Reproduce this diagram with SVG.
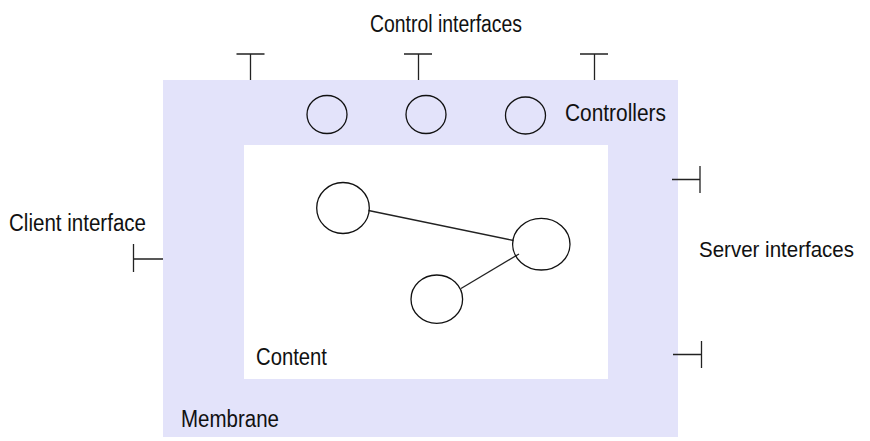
<svg xmlns="http://www.w3.org/2000/svg" width="870" height="441" viewBox="0 0 870 441">
<style>
.lbl{font-family:"Liberation Sans",Arial,sans-serif;font-size:23.5px;fill:#111}
.ln{stroke:#222;stroke-width:1.3;fill:none}
.nd{stroke:#111;stroke-width:1.3;fill:none}
</style>
<rect id="membrane" x="163" y="80" width="515" height="357" fill="#e3e3fa"/>
<rect id="content" x="244" y="145" width="364" height="234" fill="#ffffff"/>
<g id="interfaces">
<path class="ln" d="M250.5 54V80M236.5 54H264.5"/>
<path class="ln" d="M418.5 54V80M404 54H432"/>
<path class="ln" d="M594.5 54V80M580 54H608"/>
<path class="ln" d="M133.5 244V272M133.5 259H163"/>
<path class="ln" d="M700 166V193M672 179.5H700"/>
<path class="ln" d="M701.5 341V368M673 354.5H701.5"/>
</g>
<g id="controller1"><ellipse class="nd" cx="327" cy="114.5" rx="20" ry="19"/></g>
<g id="controller2"><ellipse class="nd" cx="426" cy="114.5" rx="20" ry="19"/></g>
<g id="controller3"><ellipse class="nd" cx="525.5" cy="115.5" rx="20" ry="18.5"/></g>
<g id="connectors">
<line class="ln" x1="368.5" y1="210.5" x2="513.5" y2="240.5"/>
<line class="ln" x1="461" y1="288.5" x2="519" y2="254"/>
</g>
<g id="c1"><ellipse class="nd" cx="343" cy="208" rx="26.3" ry="25.5"/></g>
<g id="c2"><ellipse class="nd" cx="541.3" cy="244.2" rx="28.7" ry="25.8"/></g>
<g id="c3"><ellipse class="nd" cx="436.8" cy="299.2" rx="25.8" ry="24.2"/></g>
<g id="labels">
<text class="lbl" x="370" y="32" textLength="152" lengthAdjust="spacingAndGlyphs">Control interfaces</text>
<text class="lbl" x="565" y="121" textLength="101" lengthAdjust="spacingAndGlyphs">Controllers</text>
<text class="lbl" x="9" y="231" textLength="137" lengthAdjust="spacingAndGlyphs">Client interface</text>
<text class="lbl" x="699" y="257" style="font-size:22px" textLength="155" lengthAdjust="spacingAndGlyphs">Server interfaces</text>
<text class="lbl" x="256" y="365" textLength="71" lengthAdjust="spacingAndGlyphs">Content</text>
<text class="lbl" x="181" y="427" textLength="98" lengthAdjust="spacingAndGlyphs">Membrane</text>
</g>
</svg>
